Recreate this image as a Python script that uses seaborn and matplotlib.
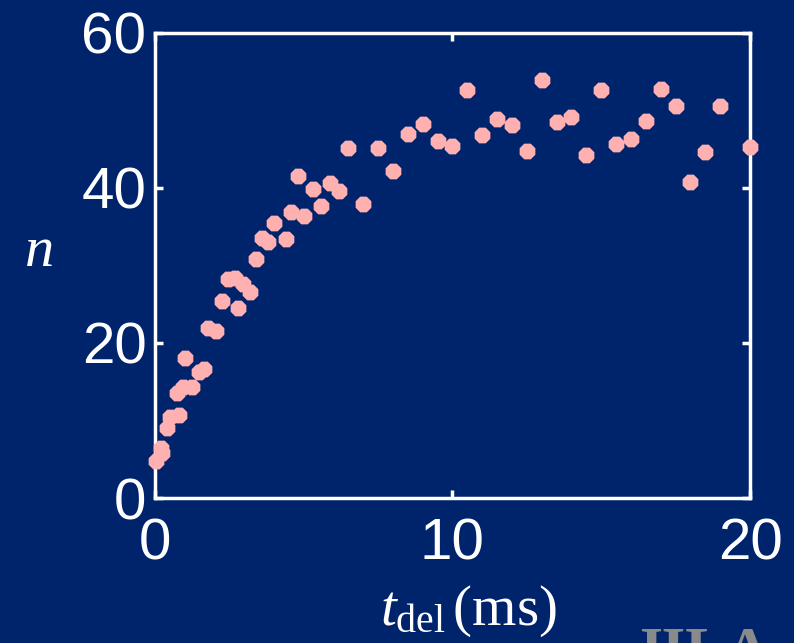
import matplotlib
matplotlib.use("Agg")
import matplotlib.pyplot as plt
import seaborn as sns
import pandas as pd

# delay time (ms) and n
t_del = [0.05, 0.2, 0.25, 0.4, 0.5, 0.8, 0.75, 0.95, 1.25, 1.5, 1.65, 1.0,
         1.8, 2.05, 2.8, 2.25, 3.2, 2.97, 2.45, 2.7, 3.4, 3.6, 3.8, 4.4,
         4.0, 4.57, 5.0, 5.6, 4.8, 5.3, 5.9, 6.2, 7.0, 6.5, 7.5, 8.0,
         8.5, 9.0, 9.5, 10.0, 10.5, 11.0, 11.5, 12.0, 12.5, 13.0, 13.5, 14.0,
         14.5, 15.0, 15.5, 16.0, 16.5, 17.0, 17.5, 18.0, 18.5, 19.0, 20.0]
n_vals = [4.8, 6.5, 5.8, 9.0, 10.5, 10.7, 13.5, 14.3, 14.3, 16.3, 16.7, 18.1,
          21.9, 21.5, 24.5, 25.4, 26.6, 27.6, 28.3, 28.4, 30.8, 33.5, 33.0, 33.4,
          35.5, 36.9, 36.4, 37.7, 41.5, 39.9, 40.7, 39.6, 37.9, 45.2, 45.2, 42.2,
          47.0, 48.3, 46.1, 45.4, 52.6, 46.8, 48.9, 48.1, 44.8, 53.9, 48.5, 49.2,
          44.3, 52.6, 45.7, 46.3, 48.6, 52.8, 50.6, 40.8, 44.6, 50.6, 45.3]
x_ticks = [0, 10, 20]
y_ticks = [0, 20, 40, 60]

bg = "#00246b"
pink = "#ffb0b0"

df = pd.DataFrame({"t": t_del, "n": n_vals})

sns.set_style("ticks")
plt.rcParams["font.family"] = ["Liberation Sans", "DejaVu Sans"]
plt.rcParams["mathtext.fontset"] = "custom"
plt.rcParams["mathtext.rm"] = "Liberation Serif"
plt.rcParams["mathtext.it"] = "Liberation Serif:italic"

fig = plt.figure(figsize=(7.94, 6.43), dpi=100, facecolor=bg)
ax = fig.add_axes([0.195, 0.2255, 0.7496, 0.7232])
ax.set_facecolor(bg)

sns.scatterplot(data=df, x="t", y="n", ax=ax, marker="8", s=150,
                color=pink, linewidth=0, clip_on=False, zorder=5)

ax.set_xlim(0, 20)
ax.set_ylim(0, 60)
ax.set_xticks(x_ticks)
ax.set_yticks(y_ticks)
for sp in ax.spines.values():
    sp.set_visible(True)
    sp.set_color("white")
    sp.set_linewidth(2.5)
ax.tick_params(direction="in", length=6, width=2.5, colors="white",
               labelsize=42, top=True, right=True)
ax.tick_params(axis="x", pad=14)
ax.tick_params(axis="y", pad=6)

ax.set_xlabel("")
ax.set_ylabel("")
fig.text(0.048, 0.61, r"$n$", color="white", fontsize=42,
         ha="center", va="center")
fig.text(0.59, 0.028, r"$t_{\rm del}\,$(ms)", color="white", fontsize=41,
         family="Liberation Serif", ha="center", va="baseline")

# cut-off logo at bottom right
fig.text(0.795, -0.06, "JILA", color="#8a8a8a", fontsize=44,
         family="Liberation Serif", fontweight="bold", ha="left", va="bottom")

fig.savefig("out.png", dpi=100, facecolor=bg)
